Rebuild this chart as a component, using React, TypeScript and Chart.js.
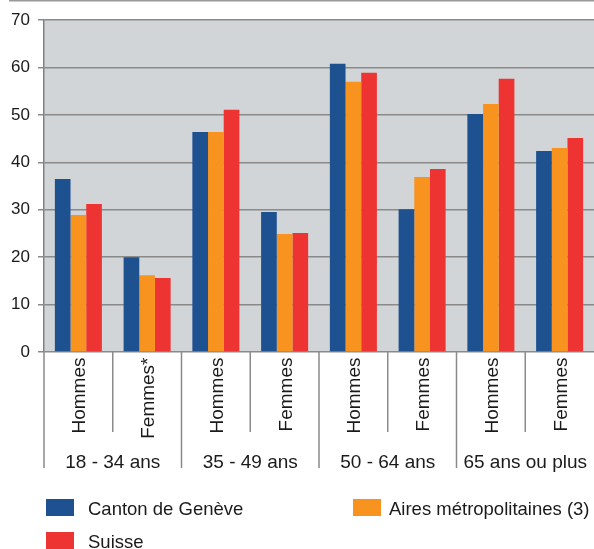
import React, { useEffect, useRef } from "react";
import { Chart, registerables } from "chart.js";

Chart.register(...registerables);

const categories = ["Hommes", "Femmes*", "Hommes", "Femmes", "Hommes", "Femmes", "Hommes", "Femmes"];
const groupLabels = ["18 - 34 ans", "35 - 49 ans", "50 - 64 ans", "65 ans ou plus"];
const seriesNames = ["Canton de Genève", "Aires métropolitaines (3)", "Suisse"];
const geneve = [36.5, 20.0, 46.4, 29.5, 60.8, 30.1, 50.2, 42.4];
const aires = [28.9, 16.2, 46.4, 24.9, 57.0, 36.9, 52.3, 43.0];
const suisse = [31.2, 15.6, 51.1, 25.1, 58.9, 38.6, 57.6, 45.1];
const yTicks = [0, 10, 20, 30, 40, 50, 60, 70];

const colors = ["#1E5190", "#F7931E", "#EE3433"];
const FONT = "'Liberation Sans', Arial, Helvetica, sans-serif";

const decorPlugin = {
  id: "decor",
  beforeDraw(chart: any) {
    const { ctx, chartArea } = chart;
    ctx.save();
    ctx.fillStyle = "#D2D5D8";
    ctx.fillRect(chartArea.left, chartArea.top, chartArea.right - chartArea.left, chartArea.bottom - chartArea.top);
    // top page line
    ctx.strokeStyle = "#9a9a9a";
    ctx.lineWidth = 1.5;
    ctx.beginPath();
    ctx.moveTo(9, 0.75);
    ctx.lineTo(chart.width, 0.75);
    ctx.stroke();
    ctx.restore();
  },
  afterDraw(chart: any) {
    const { ctx, chartArea } = chart;
    const xs = chart.scales.x;
    const n = categories.length;
    const w = (chartArea.right - chartArea.left) / n;
    const bottom = chartArea.bottom;
    ctx.save();
    // separators
    ctx.strokeStyle = "#8a8a8a";
    ctx.lineWidth = 1.5;
    for (let i = 0; i < n; i++) {
      const x = chartArea.left + i * w;
      const yEnd = i % 2 === 0 ? 468 : 432;
      ctx.beginPath();
      ctx.moveTo(x, bottom);
      ctx.lineTo(x, yEnd);
      ctx.stroke();
    }
    // rotated category labels
    ctx.fillStyle = "#1a1a1a";
    ctx.font = `19px ${FONT}`;
    for (let i = 0; i < n; i++) {
      const cx = xs.getPixelForValue(i);
      ctx.save();
      ctx.translate(cx + 7, 357.5);
      ctx.rotate(-Math.PI / 2);
      ctx.textAlign = "right";
      ctx.textBaseline = "alphabetic";
      ctx.fillText(categories[i], 0, 0);
      ctx.restore();
    }
    // group labels
    ctx.textAlign = "center";
    ctx.textBaseline = "alphabetic";
    for (let g = 0; g < groupLabels.length; g++) {
      const cx = (xs.getPixelForValue(2 * g) + xs.getPixelForValue(2 * g + 1)) / 2;
      ctx.fillText(groupLabels[g], cx, 468);
    }
    // legend
    const legendPos = [
      { bx: 46, by: 499, tx: 88 },
      { bx: 353, by: 499, tx: 389 },
      { bx: 46, by: 532, tx: 88 },
    ];
    ctx.font = `18.5px ${FONT}`;
    ctx.textAlign = "left";
    chart.data.datasets.forEach((ds: any, i: number) => {
      const p = legendPos[i];
      ctx.fillStyle = ds.backgroundColor;
      ctx.fillRect(p.bx, p.by, 28, 17);
      ctx.fillStyle = "#1a1a1a";
      ctx.fillText(ds.label, p.tx, p.by + 16);
    });
    ctx.restore();
  },
};

export default function App() {
  const ref = useRef<HTMLCanvasElement | null>(null);
  useEffect(() => {
    if (!ref.current) return;
    const chart = new Chart(ref.current, {
      type: "bar",
      data: {
        labels: categories,
        datasets: [
          { label: seriesNames[0], data: geneve, backgroundColor: colors[0] },
          { label: seriesNames[1], data: aires, backgroundColor: colors[1] },
          { label: seriesNames[2], data: suisse, backgroundColor: colors[2] },
        ],
      },
      options: {
        responsive: false,
        animation: false,
        devicePixelRatio: 1,
        layout: { padding: { left: 0, right: 0, top: 20, bottom: 197 } },
        datasets: { bar: { categoryPercentage: 0.684, barPercentage: 1.0, borderWidth: 0 } },
        plugins: { legend: { display: false }, tooltip: { enabled: false } },
        scales: {
          x: { display: false },
          y: {
            min: 0,
            max: 70,
            afterFit: (s: any) => {
              s.width = 44;
            },
            afterBuildTicks: (s: any) => {
              s.ticks = yTicks.map((v) => ({ value: v }));
            },
            ticks: {
              font: { family: FONT, size: 17 },
              color: "#1a1a1a",
              padding: 8,
            },
            grid: { color: "#8a8a8a", lineWidth: 1.5, tickLength: 6, tickColor: "#8a8a8a" },
            border: { display: true, color: "#808080", width: 1.5 },
          },
        },
      },
      plugins: [decorPlugin],
    });
    return () => chart.destroy();
  }, []);
  return (
    <div style={{ position: "absolute", left: 0, top: 0, width: 594, height: 549 }}>
      <canvas ref={ref} width={594} height={549} style={{ display: "block", width: 594, height: 549 }} />
    </div>
  );
}
